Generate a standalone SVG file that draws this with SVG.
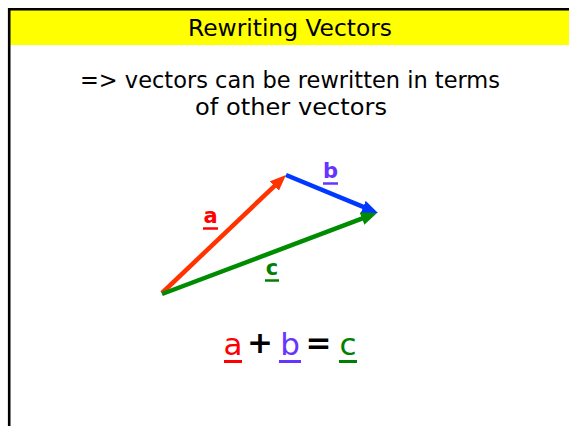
<svg xmlns="http://www.w3.org/2000/svg" width="569" height="426" viewBox="0 0 569 426">
<style>
.t{font-family:"DejaVu Sans","Noto Sans",sans-serif;fill:#000;text-anchor:middle}
.lbl{font-family:"DejaVu Sans","Noto Sans",sans-serif;font-weight:bold;font-size:21px;text-anchor:middle}
.eq{font-family:"DejaVu Sans","Noto Sans",sans-serif;font-size:31px;text-anchor:middle}
.vec{fill:none;stroke-width:4.5;stroke-linecap:butt}
</style>
<defs>
<marker id="hA" markerUnits="userSpaceOnUse" markerWidth="18" markerHeight="14" refX="4" refY="6.5" orient="auto"><path d="M0,0 L16,6.5 L0,13 z" fill="#FF3300"/></marker>
<marker id="hB" markerUnits="userSpaceOnUse" markerWidth="18" markerHeight="14" refX="4" refY="6.5" orient="auto"><path d="M0,0 L16,6.5 L0,13 z" fill="#0038FF"/></marker>
<marker id="hC" markerUnits="userSpaceOnUse" markerWidth="18" markerHeight="14" refX="4" refY="6.5" orient="auto"><path d="M0,0 L16,6.5 L0,13 z" fill="#008C00"/></marker>
</defs>
<rect x="0" y="0" width="569" height="426" fill="#fff"/>
<g id="header">
<rect x="10" y="10" width="559" height="35" fill="#FFFF00"/>
<path d="M9.2,426 V9.2 H569" fill="none" stroke="#000" stroke-width="2.6"/>
<text class="t" x="290" y="36" font-size="23" textLength="204" lengthAdjust="spacingAndGlyphs">Rewriting Vectors</text>
</g>
<g id="intro">
<text class="t" x="290" y="88" font-size="23" textLength="420" lengthAdjust="spacingAndGlyphs">=&gt; vectors can be rewritten in terms</text>
<text class="t" x="291" y="115" font-size="23" textLength="192" lengthAdjust="spacingAndGlyphs">of other vectors</text>
</g>
<g id="connectors">
<path class="vec" d="M162,293 L277.3,183.3" stroke="#FF3300" marker-end="url(#hA)"/>
<path class="vec" d="M286,175 L366.9,208.4" stroke="#0038FF" marker-end="url(#hB)"/>
<path class="vec" d="M162,294 L365.8,217.2" stroke="#008C00" marker-end="url(#hC)"/>
</g>
<g id="label-a">
<text class="lbl" x="210.5" y="223" fill="#FF0000">a</text>
<line x1="203" y1="228.5" x2="218" y2="228.5" stroke="#FF0000" stroke-width="2.5"/>
</g>
<g id="label-b">
<text class="lbl" x="330.5" y="178" fill="#6633FF">b</text>
<line x1="323" y1="183.5" x2="338" y2="183.5" stroke="#6633FF" stroke-width="2.5"/>
</g>
<g id="label-c">
<text class="lbl" x="272" y="275" fill="#008000">c</text>
<line x1="265" y1="280.5" x2="279" y2="280.5" stroke="#008000" stroke-width="2.5"/>
</g>
<g id="equation">
<text class="eq" x="233" y="355" fill="#FF0000">a</text>
<line x1="224" y1="361.5" x2="242" y2="361.5" stroke="#FF0000" stroke-width="3"/>
<text class="eq" x="260" y="353" fill="#000" font-weight="bold" font-size="21">+</text>
<text class="eq" x="290" y="355" fill="#6633FF">b</text>
<line x1="279" y1="361.5" x2="301" y2="361.5" stroke="#6633FF" stroke-width="3"/>
<text class="eq" x="318.5" y="353" fill="#000" font-weight="bold" font-size="21">=</text>
<text class="eq" x="348" y="355" fill="#008000">c</text>
<line x1="339" y1="361.5" x2="357" y2="361.5" stroke="#008000" stroke-width="3"/>
</g>
</svg>
